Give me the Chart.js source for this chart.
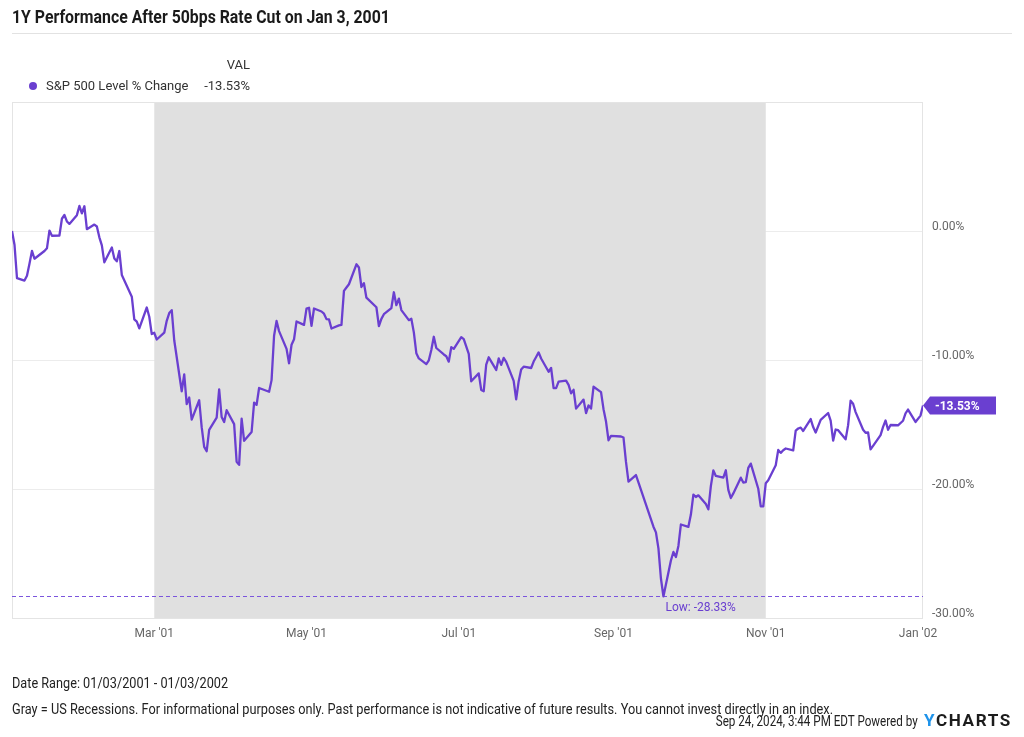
<!DOCTYPE html>
<html lang="en">
<head>
<meta charset="UTF-8">
<meta name="viewport" content="width=device-width, initial-scale=1.0">
<title>1Y Performance After 50bps Rate Cut on Jan 3, 2001</title>
<script src="https://cdn.jsdelivr.net/npm/chart.js"></script>
<style>
body {
    margin: 0;
    width: 1024px;
    height: 737px;
    position: relative;
    overflow: hidden;
    background: #fff;
    font-family: Roboto, 'Noto Sans', sans-serif;
    color: #222;
}
.abs {
    position: absolute;
    white-space: nowrap;
}
#title {
    left: 12px;
    top: 6px;
    font-size: 18px;
    line-height: 22px;
    font-weight: bold;
    color: #1a1a1a;
}
#titleRule {
    left: 12px;
    top: 33px;
    width: 1000px;
    height: 1px;
    background: #e2e2e2;
}
.legend {
    font-size: 13px;
    line-height: 16px;
    color: #333;
}
#legendDot {
    left: 29px;
    top: 82px;
    width: 8px;
    height: 8px;
    border-radius: 50%;
    background: #6a3fd0;
}
.foot {
    font-size: 14px;
    line-height: 16px;
    color: #222;
}
#logo {
    left: 924px;
    top: 711px;
    font-size: 17px;
    line-height: 18px;
    font-weight: bold;
    letter-spacing: 1.6px;
    color: #1c1c1c;
}
#logo span {
    color: #1e93ea;
}
.chartBox {
    position: absolute;
    left: 0;
    top: 0;
    width: 1024px;
    height: 737px;
}
</style>
</head>
<body>
<div class="chartBox"><canvas id="perfChart"></canvas></div>
<div class="abs" id="title">1Y Performance After 50bps Rate Cut on Jan 3, 2001</div>
<div class="abs" id="titleRule"></div>
<div class="abs legend" id="legendHead" style="right:774px; top:57px;">VAL</div>
<div class="abs" id="legendDot"></div>
<div class="abs legend" id="legendName" style="left:46px; top:78px;">S&amp;P 500 Level % Change</div>
<div class="abs legend" id="legendVal" style="right:774px; top:78px;"></div>
<div class="abs foot" id="foot1" style="left:12px; top:675px;">Date Range: 01/03/2001 - 01/03/2002</div>
<div class="abs foot" id="foot2" style="left:12px; top:701px;">Gray = US Recessions. For informational purposes only. Past performance is not indicative of future results. You cannot invest directly in an index.</div>
<div class="abs foot" id="foot3" style="right:106px; top:713px;">Sep 24, 2024, 3:44 PM EDT Powered by</div>
<div class="abs" id="logo"><span>Y</span>CHARTS</div>
<script>
// S&P 500 level, % change since the Jan 3, 2001 close
const tradingDays = [
    '2001-01-03','2001-01-04','2001-01-05','2001-01-08','2001-01-09','2001-01-10','2001-01-11','2001-01-12','2001-01-16','2001-01-17',
    '2001-01-18','2001-01-19','2001-01-22','2001-01-23','2001-01-24','2001-01-25','2001-01-26','2001-01-29','2001-01-30','2001-01-31',
    '2001-02-01','2001-02-02','2001-02-05','2001-02-06','2001-02-07','2001-02-08','2001-02-09','2001-02-12','2001-02-13','2001-02-14',
    '2001-02-15','2001-02-16','2001-02-20','2001-02-21','2001-02-22','2001-02-23','2001-02-26','2001-02-27','2001-02-28',
    '2001-03-01','2001-03-02','2001-03-05','2001-03-06','2001-03-07','2001-03-08','2001-03-09','2001-03-12','2001-03-13','2001-03-14',
    '2001-03-15','2001-03-16','2001-03-19','2001-03-20','2001-03-21','2001-03-22','2001-03-23','2001-03-26','2001-03-27','2001-03-28',
    '2001-03-29','2001-03-30',
    '2001-04-02','2001-04-03','2001-04-04','2001-04-05','2001-04-06','2001-04-09','2001-04-10','2001-04-11','2001-04-12','2001-04-16',
    '2001-04-17','2001-04-18','2001-04-19','2001-04-20','2001-04-23','2001-04-24','2001-04-25','2001-04-26','2001-04-27','2001-04-30',
    '2001-05-01','2001-05-02','2001-05-03','2001-05-04','2001-05-07','2001-05-08','2001-05-09','2001-05-10','2001-05-11','2001-05-14',
    '2001-05-15','2001-05-16','2001-05-17','2001-05-18','2001-05-21','2001-05-22','2001-05-23','2001-05-24','2001-05-25','2001-05-29',
    '2001-05-30','2001-05-31',
    '2001-06-01','2001-06-04','2001-06-05','2001-06-06','2001-06-07','2001-06-08','2001-06-11','2001-06-12','2001-06-13','2001-06-14',
    '2001-06-15','2001-06-18','2001-06-19','2001-06-20','2001-06-21','2001-06-22','2001-06-25','2001-06-26','2001-06-27','2001-06-28',
    '2001-06-29',
    '2001-07-02','2001-07-03','2001-07-05','2001-07-06','2001-07-09','2001-07-10','2001-07-11','2001-07-12','2001-07-13','2001-07-16',
    '2001-07-17','2001-07-18','2001-07-19','2001-07-20','2001-07-23','2001-07-24','2001-07-25','2001-07-26','2001-07-27','2001-07-30',
    '2001-07-31',
    '2001-08-01','2001-08-02','2001-08-03','2001-08-06','2001-08-07','2001-08-08','2001-08-09','2001-08-10','2001-08-13','2001-08-14',
    '2001-08-15','2001-08-16','2001-08-17','2001-08-20','2001-08-21','2001-08-22','2001-08-23','2001-08-24','2001-08-27','2001-08-28',
    '2001-08-29','2001-08-30','2001-08-31',
    '2001-09-04','2001-09-05','2001-09-06','2001-09-07','2001-09-10','2001-09-17','2001-09-18','2001-09-19','2001-09-20','2001-09-21',
    '2001-09-24','2001-09-25','2001-09-26','2001-09-27','2001-09-28',
    '2001-10-01','2001-10-02','2001-10-03','2001-10-04','2001-10-05','2001-10-08','2001-10-09','2001-10-10','2001-10-11','2001-10-12',
    '2001-10-15','2001-10-16','2001-10-17','2001-10-18','2001-10-19','2001-10-22','2001-10-23','2001-10-24','2001-10-25','2001-10-26',
    '2001-10-29','2001-10-30','2001-10-31',
    '2001-11-01','2001-11-02','2001-11-05','2001-11-06','2001-11-07','2001-11-08','2001-11-09','2001-11-12','2001-11-13','2001-11-14',
    '2001-11-15','2001-11-16','2001-11-19','2001-11-20','2001-11-21','2001-11-23','2001-11-26','2001-11-27','2001-11-28','2001-11-29',
    '2001-11-30',
    '2001-12-03','2001-12-04','2001-12-05','2001-12-06','2001-12-07','2001-12-10','2001-12-11','2001-12-12','2001-12-13','2001-12-14',
    '2001-12-17','2001-12-18','2001-12-19','2001-12-20','2001-12-21','2001-12-24','2001-12-26','2001-12-27','2001-12-28','2001-12-31',
    '2002-01-02','2002-01-03'
];
const pctChange = [
    0.00, -1.06, -3.65, -3.84, -3.47, -2.54, -1.54, -2.15, -1.55, -1.34,
    0.03, -0.37, -0.35, 0.95, 1.24, 0.74, 0.55, 1.23, 1.94, 1.37,
    1.92, 0.14, 0.50, 0.35, -0.49, -1.12, -2.43, -1.28, -2.13, -2.35,
    -1.55, -3.41, -5.09, -6.85, -7.03, -7.55, -5.93, -6.65, -7.99,
    -7.89, -8.41, -7.88, -6.96, -6.36, -6.14, -8.47, -12.42, -11.12, -13.42,
    -12.91, -14.62, -13.12, -15.21, -16.73, -17.07, -15.41, -14.46, -12.27, -14.42,
    -14.81, -13.89,
    -14.97, -17.89, -18.13, -14.55, -16.26, -15.58, -13.30, -13.48, -12.17, -12.46,
    -11.56, -8.12, -6.97, -7.76, -9.14, -10.25, -8.82, -8.39, -7.01, -7.28,
    -6.02, -5.95, -7.35, -6.01, -6.24, -6.41, -6.83, -6.85, -7.56, -7.32,
    -7.28, -4.64, -4.38, -4.13, -2.58, -2.83, -4.34, -4.04, -5.17, -5.91,
    -7.38, -6.81,
    -6.45, -5.97, -4.75, -5.75, -5.24, -6.13, -6.91, -6.80, -7.86, -9.47,
    -9.88, -10.32, -10.02, -9.23, -8.20, -9.07, -9.57, -9.71, -10.13, -9.01,
    -9.14,
    -8.23, -8.39, -9.52, -11.65, -11.04, -12.32, -12.42, -10.35, -9.79, -10.77,
    -9.88, -10.38, -9.84, -10.14, -11.62, -13.05, -11.66, -10.73, -10.52, -10.62,
    -10.12,
    -9.77, -9.41, -9.88, -10.91, -10.62, -12.17, -12.18, -11.68, -11.60, -11.93,
    -12.58, -12.31, -13.77, -13.07, -14.12, -13.52, -13.76, -12.07, -12.49, -13.81,
    -14.77, -16.22, -15.88,
    -15.93, -16.01, -17.90, -19.43, -18.92, -22.92, -23.36, -24.60, -26.94, -28.33,
    -25.54, -24.88, -25.27, -24.41, -22.75,
    -22.93, -21.98, -20.43, -20.62, -20.49, -21.16, -21.58, -19.78, -18.56, -18.99,
    -19.11, -18.55, -20.07, -20.70, -20.34, -19.12, -19.50, -19.47, -18.36, -18.03,
    -19.98, -21.35, -21.35,
    -19.55, -19.32, -18.16, -16.97, -17.20, -16.99, -16.86, -17.01, -15.47, -15.31,
    -15.24, -15.50, -14.58, -15.20, -15.62, -14.64, -14.11, -14.70, -16.25, -15.39,
    -15.44,
    -16.15, -15.05, -13.15, -13.39, -14.04, -15.41, -15.64, -15.62, -16.93, -16.66,
    -15.82, -15.19, -14.69, -15.41, -15.04, -15.06, -14.71, -14.13, -13.84, -14.80,
    -14.31, -13.53
];

const monthTicks = ['2001-03-01', '2001-05-01', '2001-07-01', '2001-09-01', '2001-11-01', '2002-01-01'];
const monthLabels = ["Mar '01", "May '01", "Jul '01", "Sep '01", "Nov '01", "Jan '02"];
const yTicks = [0, -10, -20, -30];
const recession = ['2001-03-01', '2001-11-01'];
const rangeStart = '2001-01-03';
const rangeEnd = '2002-01-03';

const purple = '#6a3fd0';

function dayOf(d) {
    return (Date.parse(d) - Date.parse(rangeStart)) / 86400000;
}

const points = tradingDays.map((d, i) => ({ x: dayOf(d), y: pctChange[i] }));
const lastVal = pctChange[pctChange.length - 1];
let lowIdx = 0;
pctChange.forEach((v, i) => { if (v < pctChange[lowIdx]) lowIdx = i; });

document.getElementById('legendVal').textContent = lastVal.toFixed(2) + '%';

// gray recession band, frame and the dashed low line under the series
const underlay = {
    id: 'underlay',
    beforeDatasetsDraw(chart) {
        const { ctx, chartArea: a, scales: { x, y } } = chart;
        ctx.save();
        const r0 = x.getPixelForValue(dayOf(recession[0]));
        const r1 = x.getPixelForValue(dayOf(recession[1]));
        ctx.fillStyle = '#e0e0e0';
        ctx.fillRect(r0, a.top, r1 - r0, a.bottom - a.top);

        ctx.strokeStyle = '#e4e4e4';
        ctx.lineWidth = 1;
        ctx.strokeRect(a.left + 0.5, a.top + 0.5, a.right - a.left - 1, a.bottom - a.top);

        const ly = Math.round(y.getPixelForValue(pctChange[lowIdx])) + 0.5;
        ctx.strokeStyle = '#7b55dd';
        ctx.setLineDash([4, 3]);
        ctx.beginPath();
        ctx.moveTo(a.left, ly);
        ctx.lineTo(a.right, ly);
        ctx.stroke();
        ctx.restore();
    },
    afterDatasetsDraw(chart) {
        const { ctx, scales: { x, y } } = chart;
        const lx = x.getPixelForValue(points[lowIdx].x);
        const ly = y.getPixelForValue(pctChange[lowIdx]);
        ctx.save();
        ctx.fillStyle = purple;
        ctx.font = '12px Roboto';
        ctx.textBaseline = 'middle';
        ctx.fillText('Low: ' + pctChange[lowIdx].toFixed(2) + '%', lx + 2, ly + 12);
        ctx.restore();
    },
    afterDraw(chart) {
        // last value tag on the right axis
        const { ctx, chartArea: a, scales: { y } } = chart;
        const py = y.getPixelForValue(lastVal);
        const x0 = a.right;
        ctx.save();
        ctx.fillStyle = purple;
        ctx.beginPath();
        ctx.moveTo(x0, py);
        ctx.lineTo(x0 + 7, py - 9);
        ctx.lineTo(x0 + 73, py - 9);
        ctx.lineTo(x0 + 73, py + 9);
        ctx.lineTo(x0 + 7, py + 9);
        ctx.closePath();
        ctx.fill();
        ctx.fillStyle = '#fff';
        ctx.font = 'bold 12px Roboto';
        ctx.textBaseline = 'middle';
        ctx.fillText(lastVal.toFixed(2) + '%', x0 + 12, py + 1);
        ctx.restore();
    }
};

const ctx = document.getElementById('perfChart').getContext('2d');
const perfChart = new Chart(ctx, {
    type: 'line',
    data: {
        datasets: [{
            label: 'S&P 500 Level % Change',
            data: points,
            borderColor: purple,
            borderWidth: 2.3,
            pointRadius: 0,
            tension: 0,
            borderJoinStyle: 'round'
        }]
    },
    options: {
        responsive: true,
        maintainAspectRatio: false,
        animation: false,
        layout: { padding: { left: 12, top: 102, right: 0, bottom: 89 } },
        plugins: {
            legend: { display: false },
            tooltip: { enabled: false }
        },
        scales: {
            x: {
                type: 'linear',
                min: 0,
                max: dayOf(rangeEnd),
                afterBuildTicks: (axis) => { axis.ticks = monthTicks.map(d => ({ value: dayOf(d) })); },
                afterFit: (axis) => { axis.height = 30; },
                grid: { display: false, drawTicks: false },
                border: { display: false },
                ticks: {
                    autoSkip: false,
                    maxRotation: 0,
                    padding: 9,
                    color: '#666',
                    font: { family: 'Roboto', size: 12 },
                    callback: (v) => monthLabels[monthTicks.findIndex(d => dayOf(d) === v)]
                }
            },
            y: {
                position: 'right',
                min: -30,
                max: 10,
                afterBuildTicks: (axis) => { axis.ticks = yTicks.map(v => ({ value: v })); },
                afterFit: (axis) => { axis.width = 101; },
                grid: { color: '#ececec', drawTicks: false },
                border: { display: false },
                ticks: {
                    padding: 9,
                    labelOffset: -4,
                    color: '#666',
                    font: { family: 'Roboto', size: 12 },
                    callback: (v) => v.toFixed(2) + '%'
                }
            }
        }
    },
    plugins: [underlay]
});

// the heading and footnote type is a condensed face; narrow Roboto to match
function squeeze(id, width, origin) {
    const el = document.getElementById(id);
    const w = el.getBoundingClientRect().width;
    el.style.transformOrigin = origin;
    el.style.transform = 'scaleX(' + (width / w).toFixed(3) + ')';
}
squeeze('title', 378, 'left center');
squeeze('foot1', 216, 'left center');
squeeze('foot2', 821, 'left center');
squeeze('foot3', 202, 'right center');
squeeze('logo', 88, 'left center');
</script>
</body>
</html>
